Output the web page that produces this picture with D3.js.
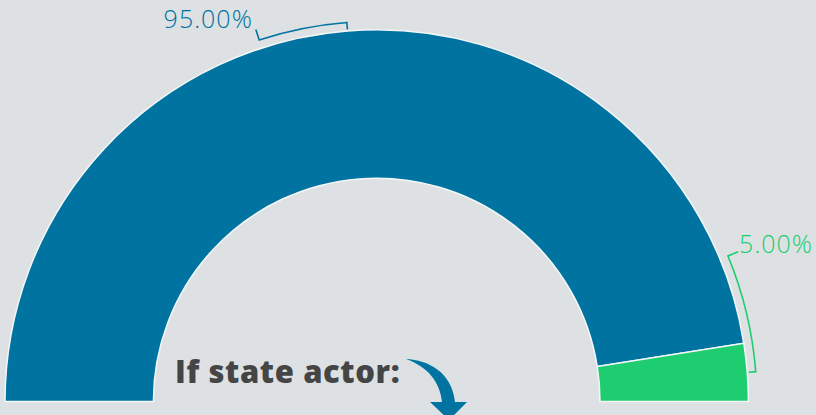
<!DOCTYPE html>
<html lang="en">
<head>
<meta charset="UTF-8">
<title>State actor share</title>
<script src="https://d3js.org/d3.v7.min.js"></script>
<style>
  html, body { margin: 0; padding: 0; background: #dde1e3; }
  svg { display: block; }
</style>
</head>
<body>
<div id="chart"></div>
<script>
// data
const categories = ["State actor", "Not state actor"];
const values = [95, 5];
const colors = ["#0073a1", "#1ecd6f"];

const width = 816, height = 415;
const cx = 376.7, cy = 401.5;
const outerR = 371.7, innerR = 223.3;

const svg = d3.select("#chart").append("svg")
    .attr("width", width)
    .attr("height", height);

const g = svg.append("g").attr("transform", `translate(${cx},${cy})`);

const pie = d3.pie()
    .sort(null)
    .startAngle(-Math.PI / 2)
    .endAngle(Math.PI / 2)
    .value(d => d.value);

const data = categories.map((c, i) => ({ name: c, value: values[i], color: colors[i] }));
const arcs = pie(data);

const arc = d3.arc().innerRadius(innerR).outerRadius(outerR);

g.selectAll(".slice")
    .data(arcs)
    .enter()
    .append("path")
    .attr("class", "slice")
    .attr("d", arc)
    .attr("fill", d => d.data.color)
    .attr("stroke", "#f4f7f8")
    .attr("stroke-width", 1.5)
    .attr("stroke-linejoin", "miter");

// leader brackets (counter-clockwise from slice middle)
const span = [13.5, 18].map(a => a * Math.PI / 180);
const bracketR = outerR + 8.5, tickOut = 11;
const pt = (a, r) => [Math.sin(a) * r, -Math.cos(a) * r];

arcs.forEach((d, i) => {
    const mid = (d.startAngle + d.endAngle) / 2;
    const end = mid - span[i];
    const p0 = pt(mid, outerR + 1.5);
    const p1 = pt(mid, bracketR);
    const p3 = pt(end, bracketR + tickOut);
    const leader = d3.path();
    leader.moveTo(p0[0], p0[1]);
    leader.lineTo(p1[0], p1[1]);
    leader.arc(0, 0, bracketR, mid - Math.PI / 2, end - Math.PI / 2, true);
    leader.lineTo(p3[0], p3[1]);
    g.append("path")
        .attr("d", leader.toString())
        .attr("fill", "none")
        .attr("stroke", d.data.color)
        .attr("stroke-width", 1.6);

    const left = p3[0] < 0;
    g.append("text")
        .attr("x", p3[0] + (left ? -3 : 1))
        .attr("y", p3[1] + (left ? -1.5 : 1.5))
        .attr("text-anchor", left ? "end" : "start")
        .attr("fill", d.data.color)
        .style("font-family", "'Open Sans', 'DejaVu Sans', sans-serif")
        .style("font-weight", 300)
        .style("font-size", "25px")
        .style("letter-spacing", "1px")
        .text(d3.format(".2f")(d.data.value) + "%");
});

// caption + arrow
svg.append("text")
    .attr("x", 175)
    .attr("y", 383)
    .attr("fill", "#454545")
    .style("font-family", "'Open Sans', 'DejaVu Sans', sans-serif")
    .style("font-weight", 800)
    .style("font-size", "31px")
    .style("letter-spacing", "0.6px")
    .text("If state actor:");

const arrow = d3.path();
arrow.moveTo(406, 359);
arrow.bezierCurveTo(428, 360, 452, 372, 455, 402);
arrow.lineTo(467, 402);
arrow.lineTo(449, 420);
arrow.lineTo(430, 402);
arrow.lineTo(442, 402);
arrow.bezierCurveTo(440, 382, 428, 367, 406, 359);
arrow.closePath();
svg.append("path")
    .attr("d", arrow.toString())
    .attr("fill", "#0073a1");
</script>
</body>
</html>
